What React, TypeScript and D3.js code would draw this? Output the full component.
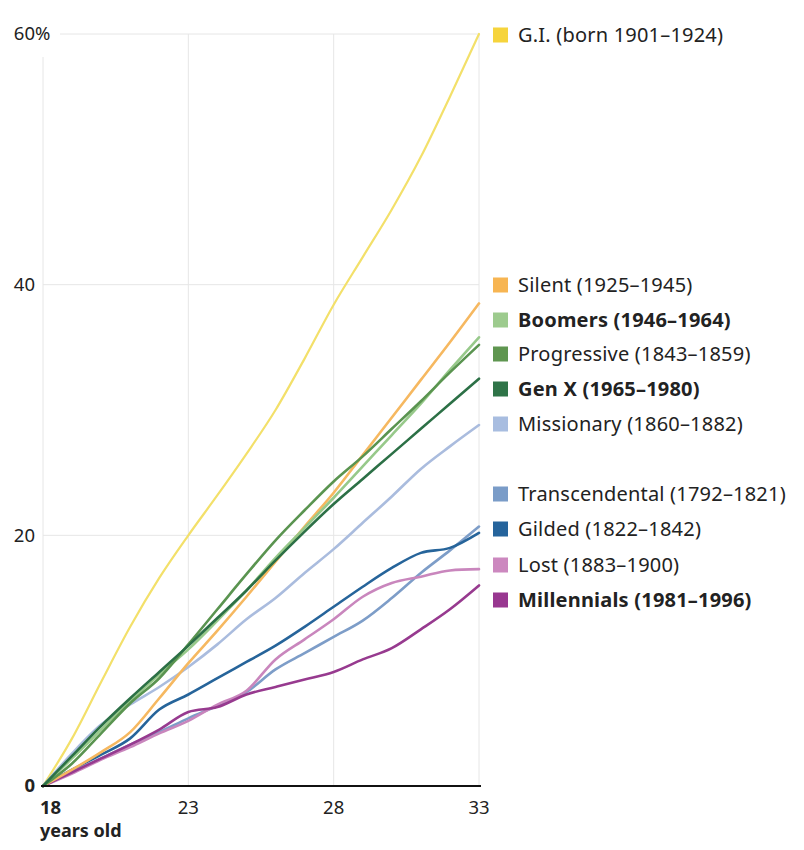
import React from "react";
import * as d3 from "d3";

const ages = [18, 19, 20, 21, 22, 23, 24, 25, 26, 27, 28, 29, 30, 31, 32, 33];

const giValues = [0, 3.8, 8.3, 12.7, 16.6, 20, 23.2, 26.5, 30.0, 34.1, 38.4, 42.2, 46, 50.2, 55, 60];
const silentValues = [0, 1.3, 2.7, 4.3, 7, 9.8, 12.4, 15.1, 17.9, 20.7, 23.4, 26.4, 29.4, 32.4, 35.4, 38.5];
const boomersValues = [0, 2.2, 4.5, 6.8, 8.9, 10.9, 13.2, 15.6, 18.2, 20.6, 23, 25.5, 28, 30.5, 33.2, 35.8];
const progressiveValues = [0, 1.8, 4.2, 6.6, 8.6, 11.3, 14.1, 16.9, 19.6, 22.0, 24.3, 26.3, 28.5, 30.7, 33, 35.2];
const genXValues = [0, 2.4, 4.8, 7.0, 9.1, 11.2, 13.4, 15.6, 18.0, 20.3, 22.5, 24.5, 26.5, 28.5, 30.5, 32.5];
const missionaryValues = [0, 2.6, 4.9, 6.5, 7.9, 9.5, 11.3, 13.3, 15, 17, 18.9, 21, 23.1, 25.3, 27.1, 28.8];
const transcendentalValues = [0, 1.1, 2.2, 3.3, 4.3, 5.4, 6.4, 7.5, 9.3, 10.6, 11.9, 13.2, 15, 17, 18.8, 20.7];
const gildedValues = [0, 1.3, 2.5, 3.8, 6.1, 7.3, 8.6, 9.9, 11.2, 12.7, 14.3, 15.9, 17.4, 18.6, 19, 20.2];
const lostValues = [0, 1.0, 2.1, 3.1, 4.2, 5.2, 6.5, 7.6, 10.1, 11.7, 13.3, 15.1, 16.2, 16.7, 17.2, 17.3];
const millennialsValues = [0, 1.1, 2.2, 3.3, 4.5, 5.9, 6.3, 7.3, 7.9, 8.5, 9.1, 10.1, 11, 12.5, 14.1, 16.0];

const seriesNames = [
  "G.I. (born 1901–1924)",
  "Silent (1925–1945)",
  "Boomers (1946–1964)",
  "Progressive (1843–1859)",
  "Gen X (1965–1980)",
  "Missionary (1860–1882)",
  "Transcendental (1792–1821)",
  "Gilded (1822–1842)",
  "Lost (1883–1900)",
  "Millennials (1981–1996)",
];
const seriesValues = [
  giValues, silentValues, boomersValues, progressiveValues, genXValues,
  missionaryValues, transcendentalValues, gildedValues, lostValues, millennialsValues,
];
const seriesBold = [false, false, true, false, true, false, false, false, false, true];
const seriesColors = [
  "#f6d43c", "#f7b552", "#9dcb8e", "#5f9650", "#2f7448",
  "#a8bde0", "#7a9cc8", "#25649c", "#cc88bf", "#983790",
];
const lineColors = [
  "#f3e06a", "#f6b860", "#97c98a", "#5a9450", "#2c7046",
  "#aabcde", "#7d9dc8", "#26649a", "#c986bd", "#973a8f",
];
// legend row centre positions (px) – layout only
const legendY = [35, 285, 320, 354, 389, 424, 494, 529, 565, 600];

const yTicks = [0, 20, 40, 60];
const xTicks = [18, 23, 28, 33];

const FONT = "'Noto Sans', 'Open Sans', 'Liberation Sans', sans-serif";

export default function App() {
  const x = d3.scaleLinear().domain([18, 33]).range([43, 479]);
  const y = d3.scaleLinear().domain([0, 60]).range([786, 34]);
  const line = d3
    .line<number>()
    .x((_, i) => x(ages[i]))
    .y((d) => y(d))
    .curve(d3.curveMonotoneX);

  const drawOrder = [0, 5, 6, 8, 7, 9, 1, 2, 3, 4];

  return (
    <svg
      width={804}
      height={850}
      style={{ position: "absolute", left: 0, top: 0, background: "#fff" }}
      fontFamily={FONT}
    >
      <rect width={804} height={850} fill="#fff" />
      {yTicks.filter((t) => t > 0).map((t) => (
        <line
          key={"hg" + t}
          x1={t === 60 ? 60 : x(18)}
          x2={x(33)}
          y1={y(t)}
          y2={y(t)}
          stroke="#e6e6e6"
          strokeWidth={1}
        />
      ))}
      {xTicks.map((t) => (
        <line
          key={"vg" + t}
          x1={x(t)}
          x2={x(t)}
          y1={t === 18 ? 57 : y(60)}
          y2={y(0)}
          stroke="#e6e6e6"
          strokeWidth={1}
        />
      ))}
      {yTicks.map((t) => (
        <text
          key={"yl" + t}
          x={35}
          y={y(t)}
          dy="0.35em"
          textAnchor="end"
          fontSize={18.5}
          fontWeight={t === 0 ? 700 : 400}
          fill="#222"
        >
          {t}
        </text>
      ))}
      <text x={35} y={y(60)} dy="0.35em" fontSize={18.5} fill="#222">%</text>
      {drawOrder.map((i) => (
        <path
          key={"l" + i}
          d={line(seriesValues[i]) || ""}
          fill="none"
          stroke={lineColors[i]}
          strokeWidth={i === 0 ? 2.2 : 2.6}
          strokeLinejoin="round"
          strokeLinecap="round"
        />
      ))}
      <line x1={x(18) - 2} x2={x(33) + 2} y1={y(0)} y2={y(0)} stroke="#111" strokeWidth={2} />
      {xTicks.map((t) => (
        <text
          key={"xl" + t}
          x={t === 18 ? 40 : x(t)}
          y={808}
          dy="0.35em"
          textAnchor={t === 18 ? "start" : "middle"}
          fontSize={18.5}
          fontWeight={t === 18 ? 700 : 400}
          fill="#222"
        >
          {t}
        </text>
      ))}
      <text x={40} y={831} dy="0.35em" fontSize={18} fontWeight={700} fill="#222">
        years old
      </text>
      {seriesNames.map((n, i) => (
        <g key={"lg" + i} transform={`translate(0,${legendY[i]})`}>
          <rect x={493} y={-7.5} width={15} height={15} fill={seriesColors[i]} />
          <text
            x={518}
            y={0}
            dy="0.35em"
            fontSize={20}
            letterSpacing={0.2}
            fontWeight={seriesBold[i] ? 700 : 400}
            fill="#222"
          >
            {n}
          </text>
        </g>
      ))}
    </svg>
  );
}
